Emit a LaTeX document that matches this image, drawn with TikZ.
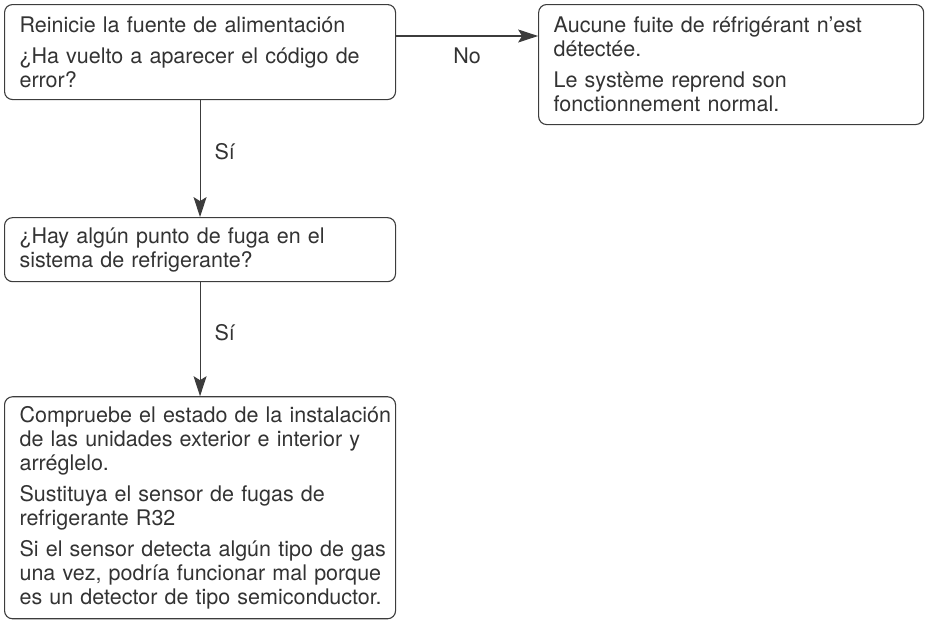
\documentclass[tikz,border=0pt]{standalone}
\usepackage{fontspec}
\setmainfont{TeX Gyre Heros}
\usetikzlibrary{positioning,calc,arrows.meta}

\definecolor{inkgray}{HTML}{333333}
\definecolor{linegray}{HTML}{3C3C3C}

\tikzset{
  stepbox/.style={draw=linegray, line width=1.1pt, rounded corners=8pt,
    align=left, inner xsep=15pt, inner ysep=0pt, text=inkgray,
    font=\fontsize{21.5}{24}\selectfont, anchor=north west,
    execute at begin node={\rightskip=0pt plus 1fil minus 40pt}},
  flow/.style={-{Stealth[length=20pt,width=13pt,inset=4pt]},
    draw=linegray, line width=1.1pt},
  answer/.style={text=inkgray, font=\fontsize{21.5}{24}\selectfont, inner sep=2pt}
}

\begin{document}
\begin{tikzpicture}[x=1pt,y=1pt]
  \useasboundingbox (0,0) rectangle (926,-619);

  \node[stepbox, text width=361pt, minimum height=95pt] (reset) at (4,-4)
    {Reinicie la fuente de alimentación\\[7pt]
     ¿Ha vuelto a aparecer el código de\\error?};
  \node[stepbox, text width=355pt, minimum height=120pt,
    right=142pt of reset.north east, anchor=north west] (normal)
    {Aucune fuite de réfrigérant n’est\\détectée.\\[7pt]
     Le système reprend son\\fonctionnement normal.};
  \node[stepbox, text width=361pt, minimum height=64pt,
    below=117pt of reset.south west, anchor=north west] (leak)
    {¿Hay algún punto de fuga en el\\sistema de refrigerante?};
  \node[stepbox, text width=361pt, minimum height=222pt,
    below=114pt of leak.south west, anchor=north west] (repair)
    {Compruebe el estado de la instalación\\de las unidades exterior e interior y\\arréglelo.\\[7pt]
     Sustituya el sensor de fugas de\\refrigerante R32\\[7pt]
     Si el sensor detecta algún tipo de gas\\una vez, podría funcionar mal porque\\es un detector de tipo semiconductor.};

  % connectors
  \coordinate (noStart) at ($(reset.north east)+(0,-32)$);
  \draw[flow] (noStart) -- node[answer, below=9pt] {No} (noStart -| normal.west);
  \draw[flow] (reset.south) -- node[answer, pos=.44, right=12pt] {Sí} (leak.north);
  \draw[flow] (leak.south) -- node[answer, pos=.44, right=12pt] {Sí} (repair.north);
\end{tikzpicture}
\end{document}
